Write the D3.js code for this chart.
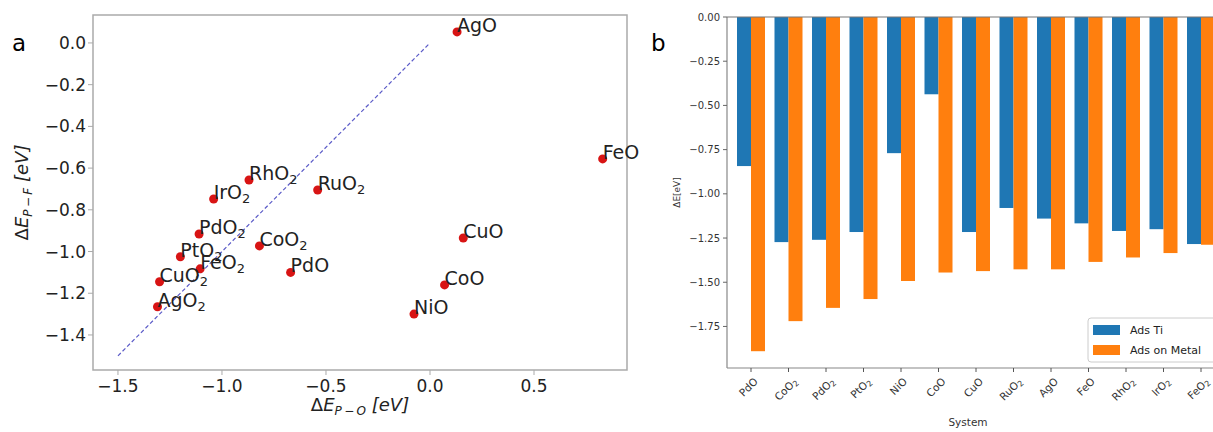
<!DOCTYPE html>
<html>
<head>
<meta charset="utf-8">
<script src="https://cdn.jsdelivr.net/npm/d3@7"></script>
<style>
  body { margin: 0; background: #fff; }
  svg { display: block; font-family: "DejaVu Sans", sans-serif; }
</style>
</head>
<body>
<div class="canvas"></div>
<script>
// panel a data: oxide, dE(P-O), dE(P-F)
const oxides = ['AgO','FeO','RuO2','RhO2','IrO2','PdO2','CoO2','PtO2','FeO2','CuO2','AgO2','PdO','CuO','CoO','NiO'];
const dEPO = [0.13, 0.83, -0.54, -0.87, -1.04, -1.11, -0.82, -1.20, -1.105, -1.30, -1.31, -0.67, 0.16, 0.07, -0.077];
const dEPF = [0.053, -0.556, -0.705, -0.657, -0.748, -0.916, -0.973, -1.025, -1.083, -1.145, -1.265, -1.10, -0.935, -1.16, -1.30];
const xTicksA = [-1.5, -1.0, -0.5, 0.0, 0.5];
const yTicksA = [0.0, -0.2, -0.4, -0.6, -0.8, -1.0, -1.2, -1.4];
const diagLine = [-1.5, 0];

// panel b data
const systems = ['PdO','CoO2','PdO2','PtO2','NiO','CoO','CuO','RuO2','AgO','FeO','RhO2','IrO2','FeO2'];
const adsTi = [-0.843, -1.273, -1.26, -1.216, -0.77, -0.437, -1.216, -1.08, -1.14, -1.167, -1.21, -1.20, -1.284];
const adsMetal = [-1.89, -1.72, -1.645, -1.595, -1.493, -1.445, -1.437, -1.427, -1.427, -1.385, -1.36, -1.335, -1.288];
const seriesNames = ['Ads Ti', 'Ads on Metal'];
const yTicksB = [0, -0.25, -0.5, -0.75, -1.0, -1.25, -1.5, -1.75];

const W = 1213, H = 432;
const svg = d3.select('.canvas').append('svg').attr('width', W).attr('height', H);

const minus = s => s.replace(/-/g, '\u2212');

// helper: name with subscript 2
const subName = (sel, name, size, dy) => {
  const m = name.match(/^(.*?)(2)$/);
  if (m) {
    sel.append('tspan').text(m[1]);
    sel.append('tspan').text('2').attr('font-size', size).attr('dy', dy);
  } else {
    sel.text(name);
  }
};

// ---------------- panel a ----------------
const A = {left: 93, right: 627, top: 15, bottom: 370};
const xa = d3.scaleLinear().domain([-1.62, 0.947]).range([A.left, A.right]);
const ya = d3.scaleLinear().domain([0.134, -1.568]).range([A.top, A.bottom]);

const ga = svg.append('g');

ga.append('rect')
  .attr('x', A.left).attr('y', A.top)
  .attr('width', A.right - A.left).attr('height', A.bottom - A.top)
  .attr('fill', 'none').attr('stroke', '#aaa').attr('stroke-width', 1.5);

// ticks
ga.selectAll('.xt').data(xTicksA).enter().append('line')
  .attr('x1', d => xa(d)).attr('x2', d => xa(d))
  .attr('y1', A.bottom).attr('y2', A.bottom + 5)
  .attr('stroke', '#aaa');
ga.selectAll('.xtl').data(xTicksA).enter().append('text')
  .attr('x', d => xa(d)).attr('y', A.bottom + 22)
  .attr('text-anchor', 'middle').attr('font-size', 17).attr('fill', '#222')
  .text(d => minus(d3.format('.1f')(d)));

ga.selectAll('.yt').data(yTicksA).enter().append('line')
  .attr('x1', A.left - 5).attr('x2', A.left)
  .attr('y1', d => ya(d)).attr('y2', d => ya(d))
  .attr('stroke', '#aaa');
ga.selectAll('.ytl').data(yTicksA).enter().append('text')
  .attr('x', A.left - 7).attr('y', d => ya(d) + 6)
  .attr('text-anchor', 'end').attr('font-size', 17).attr('fill', '#222')
  .text(d => minus(d3.format('.1f')(d)));

// axis labels
const xl = ga.append('text')
  .attr('x', (A.left + A.right) / 2).attr('y', 411)
  .attr('text-anchor', 'middle').attr('font-size', 18).attr('fill', '#222');
xl.append('tspan').text('\u0394');
xl.append('tspan').text('E').attr('font-style', 'italic');
xl.append('tspan').text('P\u2009\u2212\u2009O').attr('font-style', 'italic').attr('font-size', 12).attr('dy', 4);
xl.append('tspan').text(' [eV]').attr('font-style', 'italic').attr('dy', -4);

const yl = ga.append('text')
  .attr('transform', `translate(28,${(A.top + A.bottom) / 2}) rotate(-90)`)
  .attr('text-anchor', 'middle').attr('font-size', 18).attr('fill', '#222');
yl.append('tspan').text('\u0394');
yl.append('tspan').text('E').attr('font-style', 'italic');
yl.append('tspan').text('P\u2009\u2212\u2009F').attr('font-style', 'italic').attr('font-size', 12).attr('dy', 4);
yl.append('tspan').text(' [eV]').attr('font-style', 'italic').attr('dy', -4);

// dashed parity line
ga.append('line')
  .attr('x1', xa(diagLine[0])).attr('y1', ya(diagLine[0]))
  .attr('x2', xa(diagLine[1])).attr('y2', ya(diagLine[1]))
  .attr('stroke', '#5b5bc8').attr('stroke-width', 1.2).attr('stroke-dasharray', '4,2.5');

const pts = oxides.map((n, i) => ({name: n, x: dEPO[i], y: dEPF[i]}));

ga.selectAll('.dot').data(pts).enter().append('circle')
  .attr('cx', d => xa(d.x)).attr('cy', d => ya(d.y)).attr('r', 4.5)
  .attr('fill', '#d81414');

ga.selectAll('.lbl').data(pts).enter().append('text')
  .attr('x', d => xa(d.x)).attr('y', d => ya(d.y))
  .attr('font-size', 19).attr('fill', '#222')
  .each(function(d) { subName(d3.select(this), d.name, 13, 4); });

svg.append('text').attr('x', 12).attr('y', 51).attr('font-size', 23).attr('fill', '#000').text('a');

// ---------------- panel b ----------------
const B = {left: 727, right: 1225, top: 17, bottom: 368};
const xb = d3.scaleBand().domain(systems).range([B.left, B.right]).paddingInner(0).paddingOuter(0.14);
const yb = d3.scaleLinear().domain([0, -1.985]).range([B.top, B.bottom]);
const bw = 14;
const xs = d3.scaleBand().domain(seriesNames).range([0, 2 * bw]);
const colours = d3.scaleOrdinal().domain(seriesNames).range(['#1f77b4', '#ff7f0e']);

const gb = svg.append('g');

const rows = systems.map((s, i) => ({sys: s, vals: [adsTi[i], adsMetal[i]]}));
const grp = gb.selectAll('.grp').data(rows).enter().append('g')
  .attr('transform', d => `translate(${xb(d.sys) + xb.bandwidth() / 2 - bw},0)`);
grp.selectAll('rect').data(d => d.vals.map((v, j) => ({s: seriesNames[j], v})))
  .enter().append('rect')
  .attr('x', d => xs(d.s)).attr('width', xs.bandwidth())
  .attr('y', yb(0)).attr('height', d => yb(d.v) - yb(0))
  .attr('fill', d => colours(d.s));

// frame
gb.append('line').attr('x1', B.left).attr('x2', B.left).attr('y1', B.top).attr('y2', B.bottom)
  .attr('stroke', '#888').attr('stroke-width', 1.2);
gb.append('line').attr('x1', B.left).attr('x2', B.right).attr('y1', B.bottom).attr('y2', B.bottom)
  .attr('stroke', '#888').attr('stroke-width', 1.2);
gb.append('line').attr('x1', B.left).attr('x2', B.right).attr('y1', B.top).attr('y2', B.top)
  .attr('stroke', '#777').attr('stroke-width', 1.2);

// y ticks
gb.selectAll('.ybt').data(yTicksB).enter().append('line')
  .attr('x1', B.left - 4).attr('x2', B.left)
  .attr('y1', d => yb(d)).attr('y2', d => yb(d)).attr('stroke', '#666');
gb.selectAll('.ybl').data(yTicksB).enter().append('text')
  .attr('x', B.left - 7).attr('y', d => yb(d) + 3.5)
  .attr('text-anchor', 'end').attr('font-size', 10).attr('fill', '#333')
  .text(d => minus(d3.format('.2f')(d)));

// x ticks + rotated labels
gb.selectAll('.xbt').data(systems).enter().append('line')
  .attr('x1', d => xb(d) + xb.bandwidth() / 2).attr('x2', d => xb(d) + xb.bandwidth() / 2)
  .attr('y1', B.bottom).attr('y2', B.bottom + 4).attr('stroke', '#555');
gb.selectAll('.xbl').data(systems).enter().append('text')
  .attr('text-anchor', 'middle').attr('font-size', 10.5).attr('fill', '#333')
  .each(function(d) {
    const t = d3.select(this);
    subName(t, d, 8, 2);
    const L = this.getComputedTextLength();
    const cx = xb(d) + xb.bandwidth() / 2;
    const cy = B.bottom + 6 + (L * 0.707 + 9 * 0.707) / 2;
    t.attr('transform', `translate(${cx},${cy + 5}) rotate(-45)`);
  });

gb.append('text').attr('x', 968).attr('y', 426).attr('text-anchor', 'middle')
  .attr('font-size', 10.5).attr('fill', '#333').text('System');
gb.append('text').attr('transform', `translate(680,${(B.top + B.bottom) / 2}) rotate(-90)`)
  .attr('text-anchor', 'middle').attr('font-size', 9).attr('fill', '#333').text('\u0394E[eV]');

// legend
const lg = gb.append('g').attr('transform', 'translate(1088,318)');
lg.append('rect').attr('width', 140).attr('height', 44).attr('rx', 3)
  .attr('fill', '#fff').attr('fill-opacity', 0.85).attr('stroke', '#ccc');
seriesNames.forEach((s, i) => {
  lg.append('rect').attr('x', 5).attr('y', 7 + i * 20).attr('width', 27).attr('height', 10)
    .attr('fill', colours(s));
  lg.append('text').attr('x', 42).attr('y', 16 + i * 20).attr('font-size', 11).attr('fill', '#222').text(s);
});

svg.append('text').attr('x', 651).attr('y', 51).attr('font-size', 23).attr('fill', '#000').text('b');
</script>
</body>
</html>
